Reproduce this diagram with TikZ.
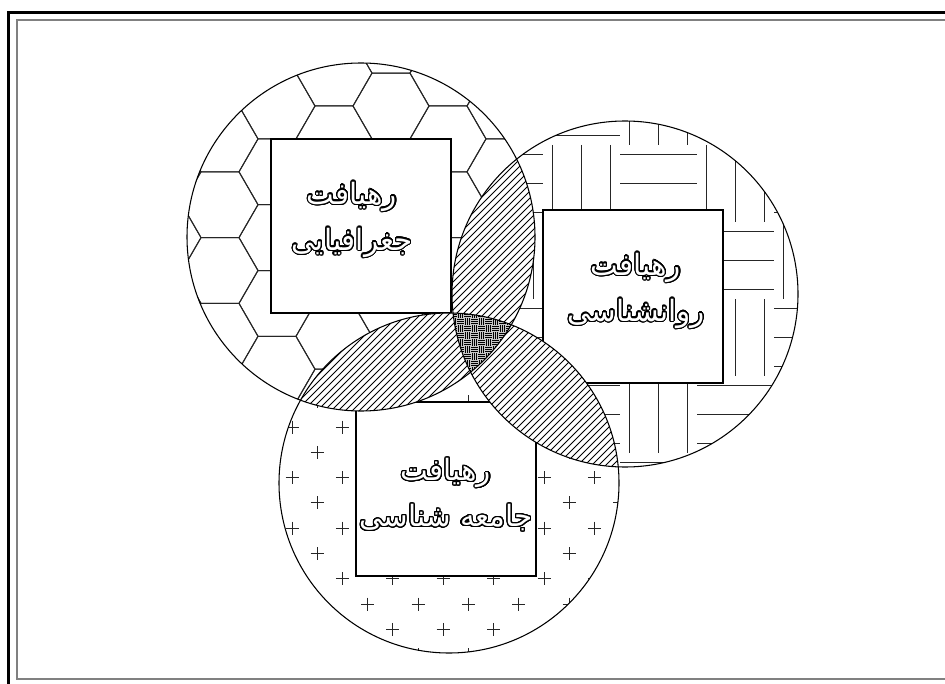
\documentclass[tikz,border=0pt]{standalone}
\usepackage{fontspec}
\usepackage[copies]{contour}
\newfontfamily\arabicfont[Script=Arabic]{DejaVu Sans}
\TeXXeTstate=1
\contourlength{0.8pt}
\contournumber{32}
\newcommand{\hollow}[1]{\contour{black}{\beginR #1\endR}}

\begin{document}
\begin{tikzpicture}[x=0.75pt, y=-0.75pt,
  fillline/.style={line width=0.75pt, black!85},
  hatchline/.style={line width=0.6pt, black},
  tinyline/.style={line width=0.5pt, black},
  panel/.style={draw=black, fill=white, line width=0.8pt},
  rim/.style={draw=black, line width=0.8pt},
  approach/.style={text=white, align=center, font=\arabicfont\fontsize{22}{34.5}\selectfont}]

\useasboundingbox (0,0) rectangle (945,684);

% === PAGE FRAME ===
\draw[black, line width=2.2pt] (8.5,684) -- (8.5,12.5) -- (945,12.5);
\draw[gray, line width=1.5pt] (945,20.5) -- (16.5,20.5) -- (16.5,679) -- (945,679);

% === CENTRES ===
\coordinate (geo) at (361,237);
\coordinate (psy) at (625,294);
\coordinate (soc) at (449,483);

% === GEOGRAPHY: hexagons ===
\begin{scope}
  \clip (geo) circle[radius=174];
  \foreach \i in {-4,...,3} {
    \foreach \j in {-3,...,7} {
      \pgfmathsetmacro\cx{391+57*\i}
      \pgfmathsetmacro\cy{106+32.9*\i+65.8*\j}
      \draw[fillline] (\cx,\cy) +(38,0) -- +(19,-32.9) -- +(-19,-32.9) -- +(-38,0) -- +(-19,32.9) -- +(19,32.9) -- cycle;
    }
  }
\end{scope}

% === PSYCHOLOGY: weave ===
\begin{scope}
  \clip (psy) circle[radius=173];
  \foreach \c in {0,...,4} {
    \foreach \r in {0,...,5} {
      \pgfmathsetmacro\bx{466+77*\c}
      \pgfmathsetmacro\by{68+77*\r}
      \pgfmathparse{int(mod(\c+\r,2))}
      \ifnum\pgfmathresult=0
        \foreach \k in {9.6,38.5,67.4} {\draw[fillline] ({\bx+\k},\by) -- ({\bx+\k},{\by+77});}
      \else
        \foreach \k in {9.6,38.5,67.4} {\draw[fillline] (\bx,{\by+\k}) -- ({\bx+77},{\by+\k});}
      \fi
    }
  }
\end{scope}

% === SOCIOLOGY: crosses ===
\begin{scope}
  \clip (soc) circle[radius=170];
  \foreach \i in {-1,...,7} {
    \foreach \j in {-6,...,10} {
      \pgfmathsetmacro\px{292+50.4*\i+25.2*mod(\j+20,2)}
      \pgfmathsetmacro\py{427+25.3*\j}
      \draw[fillline] ({\px-6.5},\py) -- ({\px+6.5},\py) ({\px},{\py-6.5}) -- ({\px},{\py+6.5});
    }
  }
\end{scope}

% === TEXT PANELS ===
\filldraw[panel] (271,139) rectangle (451,313);
\filldraw[panel] (543,210) rectangle (723,383);
\filldraw[panel] (356,402) rectangle (536,576);

% === PAIRWISE OVERLAPS ===
\foreach \p/\rp/\q/\rq in {geo/174/psy/173, geo/174/soc/170, psy/173/soc/170} {
  \begin{scope}
    \clip (\p) circle[radius=\rp];
    \clip (\q) circle[radius=\rq];
    \fill[white] (0,0) rectangle (945,684);
    \foreach \t in {560,567,...,1120} {\draw[hatchline] (\t,0) -- ({\t-700},700);}
  \end{scope}
}

% === TRIPLE OVERLAP ===
\begin{scope}
  \clip (geo) circle[radius=174];
  \clip (psy) circle[radius=173];
  \clip (soc) circle[radius=170];
  \fill[gray!45] (0,0) rectangle (945,684);
  \foreach \c in {0,...,12} {
    \foreach \r in {0,...,14} {
      \pgfmathsetmacro\bx{436+7*\c}
      \pgfmathsetmacro\by{290+7*\r}
      \pgfmathparse{int(mod(\c+\r,2))}
      \ifnum\pgfmathresult=0
        \foreach \k in {1.2,3.5,5.8} {\draw[tinyline] ({\bx+\k},\by) -- ({\bx+\k},{\by+7});}
      \else
        \foreach \k in {1.2,3.5,5.8} {\draw[tinyline] (\bx,{\by+\k}) -- ({\bx+7},{\by+\k});}
      \fi
    }
  }
\end{scope}

% === CIRCLE OUTLINES ===
\draw[rim] (geo) circle[radius=174];
\draw[rim] (psy) circle[radius=173];
\draw[rim] (soc) circle[radius=170];

% === LABELS ===
\node[approach] (geoText) at (352,220) {\hollow{رهیافت}\\\hollow{جغرافیایی}};
\node[approach] (psyText) at (636,291) {\hollow{رهیافت}\\\hollow{روانشناسی}};
\node[approach] (socText) at (446,495) {\hollow{رهیافت}\\\hollow{جامعه شناسی}};

\end{tikzpicture}
\end{document}
